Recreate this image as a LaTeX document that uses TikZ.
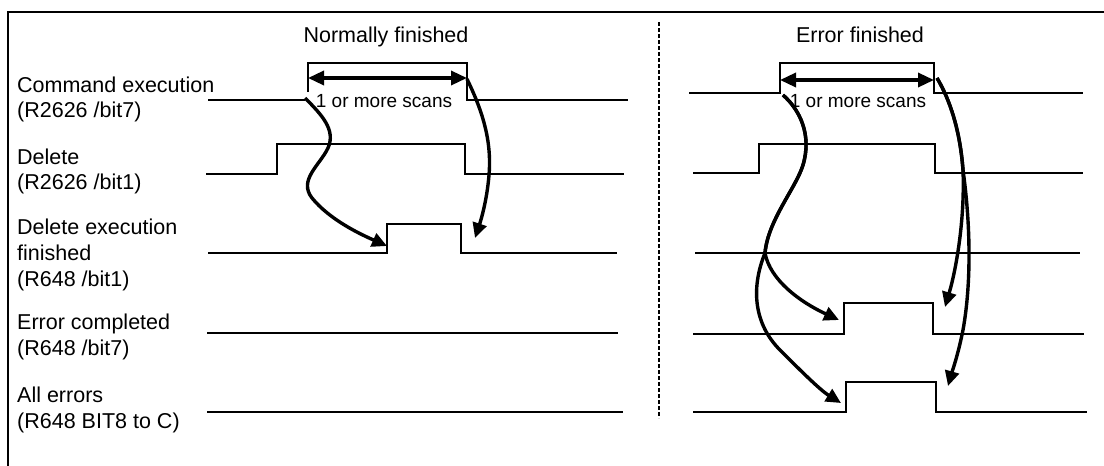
\documentclass[tikz,border=0pt]{standalone}
\usepackage{fontspec}
\setmainfont{Liberation Sans}
\usetikzlibrary{arrows.meta}
\begin{document}
\begin{tikzpicture}[x=1pt,y=-1pt,
  sig/.style={line width=1.8pt, line join=miter},
  lbl/.style={anchor=base west, inner sep=0pt, font=\fontsize{21.5}{25}\selectfont},
  ttl/.style={anchor=base, inner sep=0pt, font=\fontsize{21.5}{25}\selectfont},
  scn/.style={anchor=base, inner sep=0pt, font=\fontsize{19}{22}\selectfont},
  dimarrow/.style={line width=3.4pt, {Triangle[length=16pt,width=14pt]}-{Triangle[length=16pt,width=14pt]}},
  cause/.style={line width=3.4pt, -{Triangle[length=15pt,width=14pt]}},
  frameline/.style={line width=2pt},
  sepline/.style={line width=2.2pt, dash pattern=on 4pt off 2pt}]
\useasboundingbox (0,0) rectangle (1104,466);

% frame
\draw[frameline] (8,466) -- (8,12) -- (1104,12);
% separator
\coordinate (sepT) at (659,22);
\coordinate (sepB) at (659,418);
\draw[sepline] (sepT) -- (sepB);

% titles
\node[ttl] (tNorm) at (386,42) {Normally finished};
\node[ttl] (tErr) at (860,42) {Error finished};

% labels
\node[lbl] (l1a) at (17,92) {Command execution};
\node[lbl] (l1b) at (17,117) {(R2626 /bit7)};
\node[lbl] (l2a) at (17,164) {Delete};
\node[lbl] (l2b) at (17,189) {(R2626 /bit1)};
\node[lbl] (l3a) at (17,234) {Delete execution};
\node[lbl] (l3b) at (17,260) {finished};
\node[lbl] (l3c) at (17,286) {(R648 /bit1)};
\node[lbl] (l4a) at (17,329) {Error completed};
\node[lbl] (l4b) at (17,355) {(R648 /bit7)};
\node[lbl] (l5a) at (17,402) {All errors};
\node[lbl] (l5b) at (17,428) {(R648 BIT8 to C)};

% ---- Normally finished signals
\draw[sig] (208,100) -- (305,100);
\draw[sig] (308,92) -- (308,63) -- (467,63) -- (467,100) -- (628,100);
\draw[sig] (206,174) -- (277,174) -- (277,144) -- (465,144) -- (465,174) -- (624,174);
\draw[sig] (208,253) -- (387,253) -- (387,224) -- (461,224) -- (461,253) -- (617,253);
\draw[sig] (207,333) -- (618,333);
\draw[sig] (207,412) -- (623,412);

% ---- Error finished signals
\draw[sig] (689,93) -- (780,93) -- (780,63) -- (934,63) -- (934,93) -- (1083,93);
\draw[sig] (693,173) -- (759,173) -- (759,144) -- (935,144) -- (935,173) -- (1083,173);
\draw[sig] (695,253) -- (1080,253);
\draw[sig] (693,334) -- (844,334) -- (844,303) -- (933,303) -- (933,334) -- (1084,334);
\draw[sig] (693,412) -- (846,412) -- (846,382) -- (936,382) -- (936,412) -- (1087,412);

% scan width arrows
\coordinate (nL) at (308,78);
\coordinate (nR) at (467,78);
\draw[dimarrow] (nL) -- (nR);
\node[scn] (sNorm) at (384,107) {1 or more scans};
\coordinate (eL) at (780,80);
\coordinate (eR) at (934,80);
\draw[dimarrow] (eL) -- (eR);
\node[scn] (sErr) at (858,107) {1 or more scans};

% ---- cause arrows, normal
\coordinate (nA0) at (305,98);
\coordinate (nA1) at (387,246);
\draw[cause] (nA0) .. controls (322,115) and (336,130) .. (328,148)
  .. controls (320,165) and (298,180) .. (312,198)
  .. controls (330,220) and (360,234) .. (nA1);
\coordinate (nB0) at (467,79);
\coordinate (nB1) at (475,238);
\draw[cause] (nB0) .. controls (482,110) and (492,140) .. (489,175)
  .. controls (487,200) and (481,220) .. (nB1);

% ---- cause arrows, error
\coordinate (eA0) at (783,95);
\coordinate (eAs) at (765,253);
\coordinate (eA1) at (839,320);
\coordinate (eA2) at (841,403);
\draw[cause] (eA0) .. controls (800,110) and (812,135) .. (803,165)
  .. controls (796,188) and (768,220) .. (eAs)
  .. controls (770,280) and (800,302) .. (eA1);
\draw[cause] (eA0) .. controls (800,110) and (812,135) .. (803,165)
  .. controls (796,188) and (768,220) .. (eAs)
  .. controls (750,290) and (755,325) .. (780,350)
  .. controls (800,370) and (820,390) .. (eA2);
\coordinate (eB0) at (937,78);
\coordinate (eB1) at (945,307);
\coordinate (eB2) at (948,386);
\draw[cause] (eB0) .. controls (950,100) and (960,130) .. (963,170)
  .. controls (965,220) and (956,270) .. (eB1);
\draw[cause] (eB0) .. controls (950,100) and (960,130) .. (963,170)
  .. controls (970,220) and (972,280) .. (963,330)
  .. controls (958,355) and (952,372) .. (eB2);
\end{tikzpicture}
\end{document}
